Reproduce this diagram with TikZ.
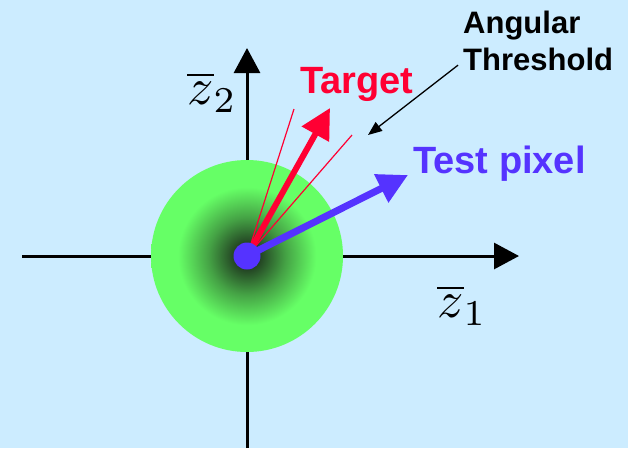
\documentclass[tikz,border=0pt]{standalone}
\usepackage{fontspec}
\usepackage{amsmath}
\usepackage{graphicx}
\usetikzlibrary{arrows.meta, positioning}
\newfontfamily\labelfont{Liberation Sans}
\definecolor{skyback}{RGB}{204,236,255}
\definecolor{targetred}{RGB}{255,0,51}
\definecolor{pixelblue}{RGB}{85,51,255}
\definecolor{lightgreen}{RGB}{102,255,102}
\definecolor{darkgreen}{RGB}{28,48,28}
\pgfdeclareradialshading{greenglow}{\pgfpoint{0bp}{0bp}}{color(0bp)=(darkgreen); color(2bp)=(darkgreen); color(10bp)=(darkgreen!45!lightgreen); color(18bp)=(lightgreen); color(50bp)=(lightgreen)}

\begin{document}
\begin{tikzpicture}[
				x=1pt, y=-1pt,
				axis/.style={line width=3pt, -{Triangle[length=25pt, width=26pt]}},
				vecarrow/.style={line width=7pt, -{Triangle[length=30pt, width=30pt]}},
				thinline/.style={line width=1.2pt, color=targetred},
				pointer/.style={line width=1.3pt, -{Triangle[length=14pt, width=11pt]}},
				lbl/.style={font=\labelfont\bfseries\fontsize{38}{40}\selectfont, inner sep=0pt},
				axlabel/.style={inner sep=0pt}
				]
				\fill[skyback] (0,0) rectangle (628,448);
				\useasboundingbox (0,0) rectangle (628,448);

				\coordinate (origin) at (247,256);
				\coordinate (xleft) at (22,256);
				\coordinate (xright) at (519,256);
				\coordinate (ybottom) at (247,448);
				\coordinate (ytop) at (247,48);
				\coordinate (targettip) at (330,108);
				\coordinate (pixeltip) at (408,175);
				\coordinate (boundl) at (294,109);
				\coordinate (boundr) at (352,135);
				\coordinate (pointtip) at (368,135);

				% axes
				\draw[axis] (xleft) -- (xright);
				\draw[axis] (ybottom) -- (ytop);
				\node[axlabel] (ztwo) at (212,92) {\scalebox{5.2}{$\overline{z}_2$}};
				\node[axlabel] (zone) at (462,305) {\scalebox{5.2}{$\overline{z}_1$}};

				% clutter cloud
				\shade[shading=greenglow] (origin) circle (96);

				% threshold and vectors
				\draw[thinline] (origin) -- (boundl);
				\draw[thinline] (origin) -- (boundr);
				\draw[vecarrow, targetred, line width=6pt] (origin) -- (targettip);
				\draw[vecarrow, pixelblue] (origin) -- (pixeltip);
				\fill[pixelblue] (origin) circle (13.5);

				\node[lbl, targetred, anchor=base west] (target) at (300,93) {Target};
				\node[lbl, pixelblue, anchor=base west] (testpix) at (413,173) {Test pixel};
				\node[lbl, font=\labelfont\bfseries\fontsize{31}{37}\selectfont, align=left, anchor=north west] (thresh) at (463,11) {Angular\\Threshold};
				\draw[pointer] (thresh.south west) ++(-5,-6) coordinate (pointstart) -- (pointtip);
			\end{tikzpicture}
\end{document}
